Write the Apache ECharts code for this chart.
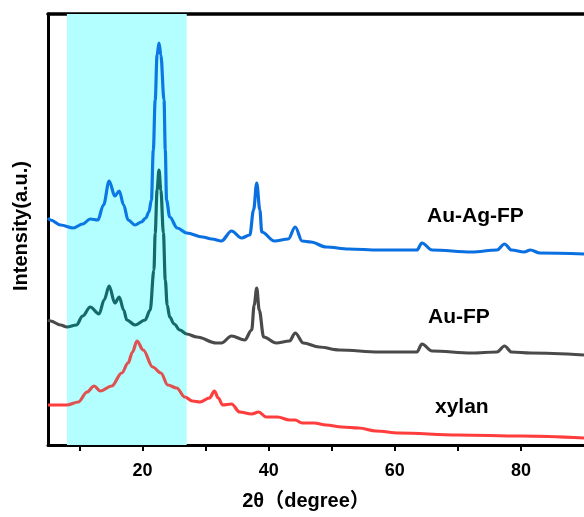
<!DOCTYPE html>
<html>
<head>
<meta charset="utf-8">
<script src="https://cdn.jsdelivr.net/npm/echarts@6/dist/echarts.min.js"></script>
<style>
  html, body { margin: 0; padding: 0; background: #fff; }
  #chart { width: 584px; height: 517px; }
</style>
</head>
<body>
<div id="chart"></div>
<script>
// 2θ (degree) / intensity (a.u.) pairs
const auAgFP = [
  [5.0, 227], [5.4, 225], [7.0, 220], [9.0, 217], [10.5, 221], [11.7, 226], [12.9, 225],
  [13.8, 240], [14.7, 264], [15.6, 249], [16.3, 254], [17.0, 240], [17.7, 225],
  [18.8, 220], [19.8, 223], [20.5, 227], [21.0, 233], [21.4, 245], [21.7, 295],
  [22.0, 345], [22.3, 390], [22.6, 402], [22.9, 390], [23.4, 345], [23.6, 295],
  [23.8, 245], [24.3, 228], [25.5, 217], [27.0, 212], [29.5, 208], [31.0, 206],
  [32.5, 204], [34.1, 214], [35.7, 207], [37.0, 210], [37.6, 235], [38.1, 262],
  [38.6, 235], [38.9, 213], [40.9, 204], [43.1, 206], [44.2, 218], [45.3, 204],
  [46.7, 203], [49.1, 198], [52.7, 196], [57.5, 195], [60.7, 195], [63.5, 195],
  [64.3, 202], [65.9, 195], [72.2, 193], [76.2, 195], [77.4, 201], [78.5, 195],
  [80.5, 193], [81.5, 195], [83.0, 192], [90.0, 191]
]
const auFP = [
  [5.0, 125], [5.4, 124], [7.0, 120], [8.0, 118], [9.5, 120], [10.5, 129], [11.7, 138],
  [13.1, 131], [13.9, 145], [14.7, 159], [15.6, 142], [16.3, 148], [17.0, 135],
  [17.5, 125], [18.8, 120], [20.4, 125], [21.2, 135], [21.8, 175], [22.0, 212],
  [22.3, 255], [22.6, 275], [22.9, 255], [23.3, 212], [23.6, 165], [23.9, 140],
  [24.3, 128], [25.0, 121], [25.9, 115], [27.0, 111], [28.6, 108], [31.7, 102],
  [32.5, 102], [34.1, 109], [36.2, 105], [37.3, 115], [37.7, 140], [38.1, 157],
  [38.5, 135], [39.2, 108], [41.2, 102], [43.3, 104], [44.2, 112], [45.5, 102],
  [48.0, 98], [51.2, 95], [57.5, 93], [63.5, 93], [64.3, 101], [65.9, 94],
  [72.2, 92], [76.2, 93], [77.4, 99], [78.5, 93], [81.5, 92], [90.0, 90]
]
const xylan = [
  [5.0, 40], [8.0, 40], [9.8, 43], [11.2, 53], [12.3, 59], [13.3, 54], [15.1, 59],
  [16.7, 72], [17.7, 82], [18.4, 93], [19.1, 104], [20.1, 95], [21.6, 78], [22.9, 72],
  [24.0, 60], [25.4, 57], [26.7, 48], [27.9, 44], [29.1, 43], [30.6, 47], [31.4, 54],
  [32.0, 47], [32.7, 40], [34.1, 41], [35.4, 33], [37.3, 31], [38.4, 33], [39.6, 28],
  [41.4, 28], [43.3, 25], [44.2, 25], [45.3, 22], [47.2, 22], [49.1, 20], [51.6, 18],
  [54.3, 17], [57.0, 14], [60.7, 12], [70.0, 10], [80.0, 9], [90.0, 7]
]
const band = [8, 27]
const tickValues = [10, 20, 30, 40, 50, 60, 70, 80]
const labelValues = [20, 40, 60, 80]

const font = 'Arial, "Liberation Sans", "Noto Sans CJK SC", sans-serif'

function line(name, data, z) {
  return {
    name: name,
    type: 'line',
    data: data,
    z: z,
    smooth: 0.35,
    smoothMonotone: 'x',
    showSymbol: false,
    lineStyle: { width: 3.2 },
    animation: false
  }
}

function bandColors(seriesIndex, outside, inside) {
  return {
    show: false,
    seriesIndex: seriesIndex,
    dimension: 0,
    pieces: [
      { lt: band[0], color: outside },
      { gte: band[0], lte: band[1], color: inside },
      { gt: band[1], color: outside }
    ]
  }
}

const chart = echarts.init(document.getElementById('chart'))
chart.setOption({
  backgroundColor: '#fff',
  grid: { left: 48, top: 14, width: 538, height: 431 },
  xAxis: [{
    type: 'value',
    min: 5,
    max: 90,
    axisLine: { lineStyle: { color: '#000', width: 3 } },
    axisTick: { show: true, inside: false, length: 6, customValues: tickValues, lineStyle: { color: '#000', width: 2 } },
    axisLabel: { customValues: labelValues, margin: 17, color: '#000', fontSize: 18, fontWeight: 'bold', fontFamily: font },
    splitLine: { show: false }
  }, {
    type: 'value',
    position: 'top',
    min: 5,
    max: 90,
    axisLine: { show: true, lineStyle: { color: '#000', width: 3.5 } },
    axisTick: { show: false },
    axisLabel: { show: false },
    splitLine: { show: false }
  }],
  yAxis: {
    type: 'value',
    min: 0,
    max: 431,
    axisLine: { show: true, lineStyle: { color: '#000', width: 3 } },
    axisTick: { show: false },
    axisLabel: { show: false },
    splitLine: { show: false }
  },
  visualMap: [
    bandColors(1, '#0a6fe0', '#0b78e4'),
    bandColors(2, '#4a4a4a', '#146a6a'),
    bandColors(3, '#ff3d3d', '#e05252')
  ],
  series: [
    {
      type: 'line',
      data: [],
      z: 1,
      silent: true,
      markArea: {
        silent: true,
        itemStyle: { color: '#b3ffff' },
        data: [[{ xAxis: band[0] }, { xAxis: band[1] }]]
      }
    },
    line('Au-Ag-FP', auAgFP, 4),
    line('Au-FP', auFP, 3),
    line('xylan', xylan, 2)
  ],
  graphic: [
    { type: 'text', left: 427, top: 206, style: { text: 'Au-Ag-FP', font: 'bold 21px ' + font, fill: '#000' } },
    { type: 'text', left: 428, top: 307, style: { text: 'Au-FP', font: 'bold 21px ' + font, fill: '#000' } },
    { type: 'text', left: 435, top: 397, style: { text: 'xylan', font: 'bold 21px ' + font, fill: '#000' } },
    { type: 'text', x: 306, y: 501, style: { text: '2θ（degree）', font: 'bold 20px ' + font, fill: '#000', align: 'center', verticalAlign: 'middle' } },
    { type: 'text', x: 21, y: 226, rotation: Math.PI / 2, style: { text: 'Intensity(a.u.)', font: 'bold 20px ' + font, fill: '#000', align: 'center', verticalAlign: 'middle' } }
  ]
})
</script>
</body>
</html>
